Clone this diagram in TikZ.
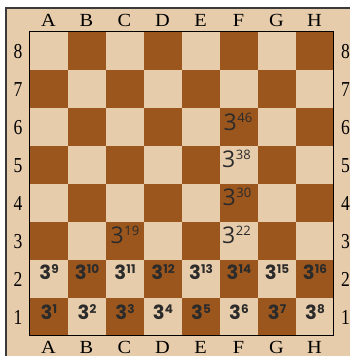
\documentclass[tikz,border=0pt]{standalone}
\usepackage{fontspec}
\usetikzlibrary{calc}
\setmainfont{Liberation Serif}
\newfontfamily\numfont{Open Sans}
\newfontfamily\boldnumfont{Poppins}
\definecolor{lightsq}{HTML}{E7CCAB}
\definecolor{darksq}{HTML}{9B561D}
\definecolor{ink}{HTML}{2B2B2B}
\definecolor{framec}{HTML}{3A3A3A}
\newcommand{\bigpow}[2]{{\numfont\fontsize{23}{23}\selectfont #1\kern0.6pt\raisebox{8pt}{\fontsize{13}{13}\selectfont #2}}}
\newcommand{\boldpow}[2]{{\boldnumfont\bfseries\fontsize{19.5}{19.5}\selectfont #1\kern0.2pt\raisebox{5.6pt}{\fontsize{12}{12}\selectfont #2}}}
\newcommand{\filelbl}[1]{\scalebox{1.1}[1]{\fontsize{18.5}{18.5}\selectfont #1}}
\newcommand{\ranklbl}[1]{\scalebox{0.95}[1.15]{\fontsize{18.5}{18.5}\selectfont #1}}
\tikzset{
  sqbox/.style={anchor=north west, minimum size=38pt, inner sep=0pt, outer sep=0pt, draw=none},
  coordlbl/.style={anchor=base, inner sep=0pt, text=black},
  bigval/.style={anchor=base west, inner sep=0pt, text=ink},
  boldval/.style={anchor=base, inner sep=0pt, text=ink},
  framebox/.style={draw=framec, line width=1.6pt, fill=lightsq},
  boardedge/.style={draw=black, line width=0.9pt}
}
\begin{document}
\begin{tikzpicture}[x=1pt,y=-1pt]
\useasboundingbox (0,0) rectangle (350,356);
\fill[white] (0,0) rectangle (350,356);
\draw[framebox] (6,8) rectangle (362,368);
\foreach \c in {0,...,7}{
  \foreach \r in {1,...,8}{
    \ifodd\numexpr\c+\r\relax \def\sqc{darksq}\else\def\sqc{lightsq}\fi
    \node[sqbox, fill=\sqc] (sq-\c-\r) at ({29.5+38*\c},{31.5+38*(8-\r)}) {};
  }
}
\draw[boardedge] (sq-0-8.north west) rectangle (sq-7-1.south east);
% file letters
\foreach \c/\L in {0/A,1/B,2/C,3/D,4/E,5/F,6/G,7/H}{
  \node[coordlbl] (top-\c) at ($(sq-\c-8.north)+(0,-4.8)$) {\filelbl{\L}};
  \node[coordlbl] (bot-\c) at ($(sq-\c-1.south)+(0,17.8)$) {\filelbl{\L}};
}
% rank numbers
\foreach \r in {1,...,8}{
  \node[coordlbl] (lft-\r) at ($(sq-0-\r.north west)+(-11.5,27)$) {\ranklbl{\r}};
  \node[coordlbl] (rgt-\r) at ($(sq-7-\r.north east)+(12,27)$) {\ranklbl{\r}};
}
% F column and C3 values
\node[bigval] (v46) at ($(sq-5-6.north west)+(4,23)$) {\bigpow{3}{46}};
\node[bigval] (v38) at ($(sq-5-5.north west)+(2.5,22)$) {\bigpow{3}{38}};
\node[bigval] (v30) at ($(sq-5-4.north west)+(3,22)$) {\bigpow{3}{30}};
\node[bigval] (v22) at ($(sq-5-3.north west)+(2.5,22)$) {\bigpow{3}{22}};
\node[bigval] (v19) at ($(sq-2-3.north west)+(5,22)$) {\bigpow{3}{19}};
% rank 2
\foreach \c/\e in {0/9,1/10,2/11,3/12,4/13,5/14,6/15,7/16}{
  \node[boldval] (b2-\c) at ($(sq-\c-2.north)+(0.5,20)$) {\boldpow{3}{\e}};
}
% rank 1
\foreach \c/\e in {0/1,1/2,2/3,3/4,4/5,5/6,6/7,7/8}{
  \node[boldval] (b1-\c) at ($(sq-\c-1.north)+(0.5,21.5)$) {\boldpow{3}{\e}};
}
\end{tikzpicture}
\end{document}
